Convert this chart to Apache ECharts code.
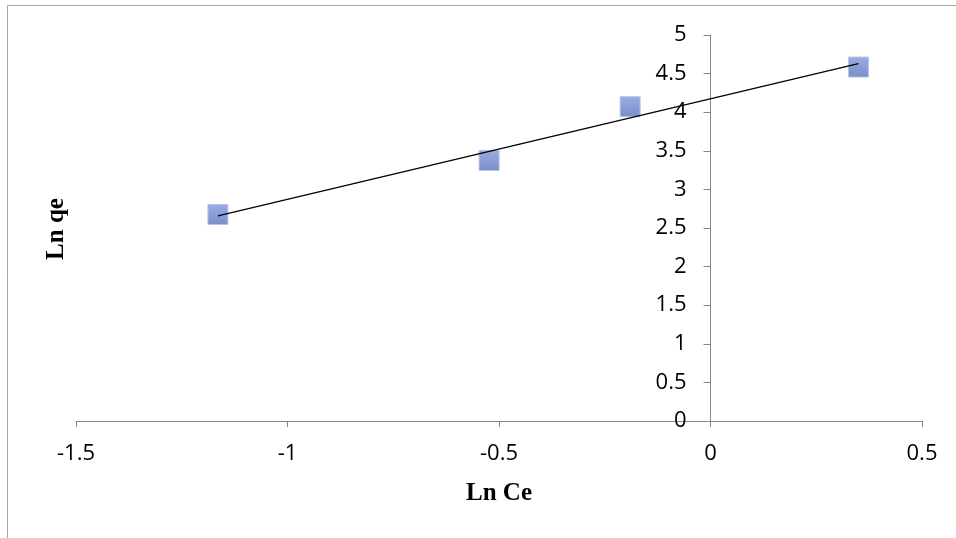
<!DOCTYPE html>
<html><head><meta charset="utf-8">
<script src="https://cdn.jsdelivr.net/npm/echarts@6/dist/echarts.min.js"></script>
<style>html,body{margin:0;padding:0;background:#fff}#c{width:956px;height:538px}</style>
</head><body><div id="c"></div>
<script>
const lnCe = [-1.1645, -0.5234, -0.190, 0.3497];
const lnQe = [2.675, 3.374, 4.071, 4.585];
const xTitle = 'Ln Ce';
const yTitle = 'Ln qe';

// least-squares trendline across data range
const n = lnCe.length;
const mx = lnCe.reduce((a,b)=>a+b,0)/n, my = lnQe.reduce((a,b)=>a+b,0)/n;
let sxy=0, sxx=0;
for (let i=0;i<n;i++){ sxy+=(lnCe[i]-mx)*(lnQe[i]-my); sxx+=(lnCe[i]-mx)**2; }
const slope = sxy/sxx, icpt = my - slope*mx;
const xMin = Math.min(...lnCe), xMax = Math.max(...lnCe);
const trend = [[xMin, icpt+slope*xMin],[xMax, icpt+slope*xMax]];

const W = 956, GL = 76, GR = 34;
const X0 = -1.5, X1 = 0.5;
const yAxisOffset = -((0 - X0)/(X1 - X0)) * (W - GL - GR);

const chart = echarts.init(document.getElementById('c'));
const lblFont = {fontFamily:'Open Sans, Noto Sans, sans-serif', fontSize:22, color:'#000'};
chart.setOption({
  animation:false,
  grid:{left:GL, right:GR, top:35, bottom:117},
  xAxis:{type:'value', min:X0, max:X1, interval:0.5,
    axisLine:{show:true, onZero:false, lineStyle:{color:'#868686'}},
    axisTick:{show:true, inside:false, length:6, lineStyle:{color:'#868686'}},
    splitLine:{show:false},
    axisLabel:Object.assign({margin:22}, lblFont),
    name:xTitle, nameLocation:'middle', nameGap:60,
    nameTextStyle:{fontFamily:'Liberation Serif, Times New Roman, serif', fontWeight:'bold', fontSize:25, color:'#000'}
  },
  yAxis:{type:'value', min:0, max:5, interval:0.5, position:'left', offset:yAxisOffset,
    axisLine:{show:true, onZero:false, lineStyle:{color:'#868686'}},
    axisTick:{show:true, inside:false, length:7, lineStyle:{color:'#868686'}},
    splitLine:{show:false},
    axisLabel:Object.assign({margin:24}, lblFont)
  },
  graphic:[
    {type:'rect', shape:{x:7.5,y:5.5,width:1000,height:1000}, style:{fill:'none', stroke:'#a6a6a6', lineWidth:1}, silent:true},
    {type:'text', x:57, y:229, rotation:Math.PI/2, style:{text:yTitle, font:'bold 25px "Liberation Serif", serif', fill:'#000', textAlign:'center', textVerticalAlign:'middle'}}
  ],
  series:[
    {type:'scatter', data:lnCe.map((x,i)=>[x,lnQe[i]]), symbol:'rect', symbolSize:20,
     itemStyle:{color:new echarts.graphic.LinearGradient(0,0,0,1,[{offset:0,color:'#9aace0'},{offset:1,color:'#7a8ecb'}]), borderColor:'#b8c4ea', borderWidth:1, opacity:1}, z:2},
    {type:'line', data:trend, symbol:'none', lineStyle:{color:'#000', width:1.3}, z:3}
  ]
});
</script></body></html>
